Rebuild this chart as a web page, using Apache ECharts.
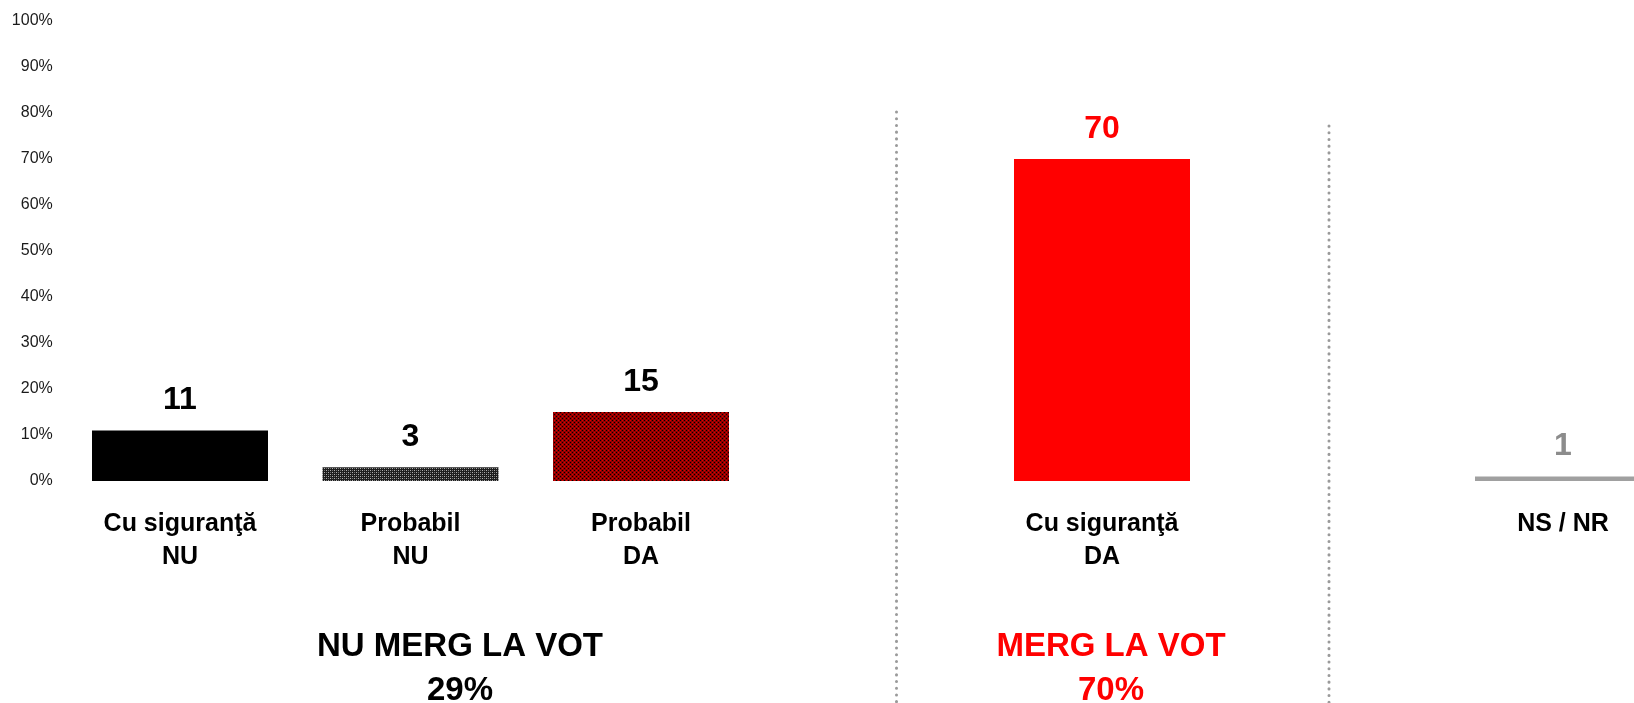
<!DOCTYPE html>
<html>
<head>
<meta charset="utf-8">
<script src="https://cdn.jsdelivr.net/npm/echarts@6/dist/echarts.min.js"></script>
<style>
  html, body { margin: 0; padding: 0; background: #ffffff; overflow: hidden; }
  /* the last column runs past the right edge of the window */
  #chart { width: 1700px; height: 703px; }
</style>
</head>
<body>
<div id="chart"></div>
<script>
// Vote intention: answers grouped into "not going" / "going" / don't know
var categories = ['Cu siguranţă\nNU', 'Probabil\nNU', 'Probabil\nDA', '', 'Cu siguranţă\nDA', '', 'NS / NR'];
var values = [11, 3, 15, null, 70, null, 1];
var yTicks = [0, 10, 20, 30, 40, 50, 60, 70, 80, 90, 100];
var groupTitles = ['NU MERG LA VOT', 'MERG LA VOT'];
var groupTotals = [29, 70];

var FONT = '"Liberation Sans", Arial, sans-serif';

// small repeating tiles for the hatched bars
function makeTile(size, base, dots) {
  var c = document.createElement('canvas');
  c.width = size; c.height = size;
  var g = c.getContext('2d');
  g.fillStyle = base;
  g.fillRect(0, 0, size, size);
  dots.forEach(function (d) {
    g.fillStyle = d[2];
    g.fillRect(d[0], d[1], 1, 1);
  });
  return c;
}
var greyTile = makeTile(4, '#1e1e1e', [[0, 0, '#b0b0b0'], [2, 2, '#b0b0b0'], [2, 0, '#707070'], [0, 2, '#707070']]);
var redTile = makeTile(4, '#8e0000', [[0, 0, '#000000'], [2, 2, '#000000'], [2, 0, '#e00000'], [0, 2, '#e00000']]);

var barFills = [
  '#000000',
  { image: greyTile, repeat: 'repeat' },
  { image: redTile, repeat: 'repeat' },
  null,
  '#ff0000',
  null,
  '#a0a0a0'
];
var labelColors = ['#000000', '#000000', '#000000', null, '#ff0000', null, '#8c8c8c'];

var seriesData = values.map(function (v, i) {
  if (v === null) return '-';
  return {
    value: v,
    itemStyle: { color: barFills[i] },
    label: { color: labelColors[i] }
  };
});

var chart = echarts.init(document.getElementById('chart'), null, { renderer: 'canvas' });

var option = {
  animation: false,
  backgroundColor: '#ffffff',
  grid: { left: 64.75, top: 21, width: 1613.5, height: 460, containLabel: false },
  xAxis: {
    type: 'category',
    data: categories,
    axisLine: { show: false },
    axisTick: { show: false },
    axisLabel: {
      interval: 0,
      margin: 27,
      fontFamily: FONT,
      fontSize: 25,
      fontWeight: 'bold',
      color: '#000000',
      lineHeight: 33
    }
  },
  yAxis: {
    type: 'value',
    min: yTicks[0],
    max: yTicks[yTicks.length - 1],
    interval: yTicks[1] - yTicks[0],
    axisLine: { show: false },
    axisTick: { show: false },
    splitLine: { show: false },
    axisLabel: {
      margin: 12,
      fontFamily: FONT,
      fontSize: 16,
      color: '#1a1a1a',
      formatter: '{value}%'
    }
  },
  series: [{
    type: 'bar',
    data: seriesData,
    barWidth: 176,
    label: {
      show: true,
      position: 'top',
      distance: 14,
      fontFamily: FONT,
      fontSize: 32,
      fontWeight: 'bold'
    }
  }],
  graphic: [
    {
      type: 'line',
      shape: { x1: 896.5, y1: 112, x2: 896.5, y2: 703 },
      style: { stroke: '#9a9a9a', lineWidth: 3, lineDash: [0.1, 6.6], lineCap: 'round' }
    },
    {
      type: 'line',
      shape: { x1: 1329, y1: 126, x2: 1329, y2: 703 },
      style: { stroke: '#9a9a9a', lineWidth: 3, lineDash: [0.1, 6.6], lineCap: 'round' }
    },
    {
      type: 'text',
      x: 460, y: 625,
      style: {
        text: groupTitles[0] + '\n' + groupTotals[0] + '%',
        font: 'bold 33px ' + FONT,
        fill: '#000000',
        align: 'center',
        verticalAlign: 'top',
        lineHeight: 44
      }
    },
    {
      type: 'text',
      x: 1111, y: 625,
      style: {
        text: groupTitles[1] + '\n' + groupTotals[1] + '%',
        font: 'bold 33px ' + FONT,
        fill: '#ff0000',
        align: 'center',
        verticalAlign: 'top',
        lineHeight: 44
      }
    }
  ]
};

chart.setOption(option);
</script>
</body>
</html>
